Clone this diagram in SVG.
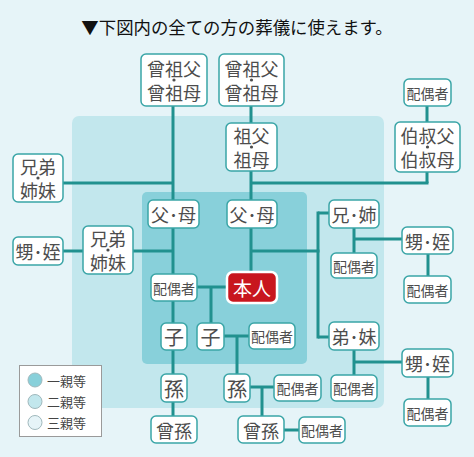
<svg xmlns="http://www.w3.org/2000/svg" width="474" height="457" viewBox="0 0 474 457">
<style>
.bg{fill:#e6f4f8}
.z2{fill:#c2e7ed}
.z1{fill:#88d0da}
.n rect{fill:#fff;stroke:#3aa5a7;stroke-width:1.5}
.n text{font-family:"Noto Sans CJK JP","Noto Sans",sans-serif;fill:#4d4d4d;text-anchor:middle;dominant-baseline:central}
.n circle{fill:#4d4d4d}
.f18{font-size:18px}
.f20{font-size:20px}
.f14{font-size:14px}
#connectors line{stroke:#21918f;stroke-width:3}
.title{font-family:"Noto Sans CJK JP","Noto Sans",sans-serif;font-size:17.4px;fill:#111;text-anchor:middle}
.leg{font-family:"Noto Sans CJK JP","Noto Sans",sans-serif;font-size:13px;fill:#444;dominant-baseline:central}
</style>
<rect class="bg" x="0" y="0" width="474" height="457"/>
<rect class="z2" x="72" y="116" width="312" height="292" rx="7"/>
<rect class="z1" x="142" y="192" width="165" height="172" rx="5"/>
<text class="title" x="237" y="34">▼下図内の全ての方の葬儀に使えます。</text>
<g id="connectors">
<line x1="173" y1="106" x2="173" y2="416"/>
<line x1="251" y1="106" x2="251" y2="272"/>
<line x1="63" y1="183" x2="173" y2="183"/>
<line x1="251" y1="183" x2="428.5" y2="183"/>
<line x1="427" y1="106" x2="427" y2="183"/>
<line x1="63" y1="251" x2="173" y2="251"/>
<line x1="251" y1="251" x2="319.5" y2="251"/>
<line x1="318" y1="211.5" x2="318" y2="338.5"/>
<line x1="318" y1="213" x2="329" y2="213"/>
<line x1="318" y1="337" x2="329" y2="337"/>
<line x1="354" y1="228" x2="354" y2="253"/>
<line x1="354" y1="239" x2="402" y2="239"/>
<line x1="428" y1="254" x2="428" y2="276"/>
<line x1="354" y1="350" x2="354" y2="375"/>
<line x1="354" y1="362" x2="402" y2="362"/>
<line x1="428" y1="377" x2="428" y2="399"/>
<line x1="197" y1="287" x2="227" y2="287"/>
<line x1="211" y1="287" x2="211" y2="323"/>
<line x1="224" y1="336" x2="249" y2="336"/>
<line x1="237" y1="336" x2="237" y2="374"/>
<line x1="250" y1="387" x2="274" y2="387"/>
<line x1="262" y1="387" x2="262" y2="416"/>
<line x1="284" y1="430" x2="299" y2="430"/>
</g>
<g id="n-sosofubo1" class="n"><rect x="141" y="54" width="66" height="52" rx="5"/><text class="f18" x="174" y="68">曾祖父</text><circle cx="174" cy="80" r="1.6"/><text class="f18" x="174" y="92">曾祖母</text></g>
<g id="n-sosofubo2" class="n"><rect x="219" y="54" width="65" height="52" rx="5"/><text class="f18" x="251.5" y="68">曾祖父</text><circle cx="251.5" cy="80" r="1.6"/><text class="f18" x="251.5" y="92">曾祖母</text></g>
<g id="n-haigu-oji" class="n"><rect x="404" y="79" width="47" height="27" rx="5"/><text class="f14" x="427.5" y="92.5">配偶者</text></g>
<g id="n-sofubo" class="n"><rect x="226" y="123" width="51" height="48" rx="5"/><text class="f18" x="251.5" y="135">祖父</text><circle cx="251.5" cy="147" r="1.6"/><text class="f18" x="251.5" y="159">祖母</text></g>
<g id="n-oji" class="n"><rect x="395" y="122" width="65" height="50" rx="5"/><text class="f18" x="427.5" y="135">伯叔父</text><circle cx="427.5" cy="147" r="1.6"/><text class="f18" x="427.5" y="159">伯叔母</text></g>
<g id="n-kyodai2" class="n"><rect x="13" y="154" width="50" height="48" rx="5"/><text class="f18" x="38" y="166">兄弟</text><circle cx="38" cy="178" r="1.6"/><text class="f18" x="38" y="190">姉妹</text></g>
<g id="n-fubo1" class="n"><rect x="148" y="200" width="51" height="28" rx="5"/><text class="f18" x="173.5" y="214">父･母</text></g>
<g id="n-fubo2" class="n"><rect x="227" y="200" width="50" height="28" rx="5"/><text class="f18" x="252" y="214">父･母</text></g>
<g id="n-kyodai1" class="n"><rect x="83" y="226" width="50" height="48" rx="5"/><text class="f18" x="108" y="238">兄弟</text><circle cx="108" cy="250" r="1.6"/><text class="f18" x="108" y="262">姉妹</text></g>
<g id="n-oimei-l" class="n"><rect x="13" y="237" width="50" height="28" rx="5"/><text class="f18" x="38" y="251">甥･姪</text></g>
<g id="n-ane" class="n"><rect x="329" y="200" width="50" height="28" rx="5"/><text class="f18" x="354" y="214">兄･姉</text></g>
<g id="n-haigu-ane" class="n"><rect x="331" y="253" width="46" height="25" rx="5"/><text class="f14" x="354" y="265.5">配偶者</text></g>
<g id="n-oimei-r1" class="n"><rect x="402" y="227" width="51" height="27" rx="5"/><text class="f18" x="427.5" y="240.5">甥･姪</text></g>
<g id="n-haigu-oimei1" class="n"><rect x="404" y="276" width="47" height="27" rx="5"/><text class="f14" x="427.5" y="289.5">配偶者</text></g>
<g id="n-haigu" class="n"><rect x="151" y="274" width="46" height="27" rx="5"/><text class="f14" x="174" y="287.5">配偶者</text></g>
<g id="n-honnin"><rect x="227" y="272" width="50" height="31" rx="6" fill="#c8161e" stroke="#fff" stroke-width="2.5"/><text x="252" y="287.5" font-family="Noto Sans CJK JP, Noto Sans, sans-serif" font-size="19" fill="#fff" text-anchor="middle" dominant-baseline="central">本人</text></g>
<g id="n-ko1" class="n"><rect x="161" y="323" width="26" height="27" rx="5"/><text class="f20" x="174" y="336.5">子</text></g>
<g id="n-ko2" class="n"><rect x="197" y="323" width="27" height="27" rx="5"/><text class="f20" x="210.5" y="336.5">子</text></g>
<g id="n-haigu-ko" class="n"><rect x="249" y="323" width="46" height="26" rx="5"/><text class="f14" x="272" y="336">配偶者</text></g>
<g id="n-imoto" class="n"><rect x="329" y="322" width="50" height="28" rx="5"/><text class="f18" x="354" y="336">弟･妹</text></g>
<g id="n-haigu-imoto" class="n"><rect x="331" y="375" width="46" height="26" rx="5"/><text class="f14" x="354" y="388">配偶者</text></g>
<g id="n-oimei-r2" class="n"><rect x="402" y="349" width="51" height="28" rx="5"/><text class="f18" x="427.5" y="363">甥･姪</text></g>
<g id="n-haigu-oimei2" class="n"><rect x="404" y="399" width="47" height="27" rx="5"/><text class="f14" x="427.5" y="412.5">配偶者</text></g>
<g id="n-mago1" class="n"><rect x="161" y="374" width="26" height="28" rx="5"/><text class="f20" x="174" y="388">孫</text></g>
<g id="n-mago2" class="n"><rect x="224" y="374" width="26" height="28" rx="5"/><text class="f20" x="237" y="388">孫</text></g>
<g id="n-haigu-mago" class="n"><rect x="274" y="375" width="47" height="26" rx="5"/><text class="f14" x="297.5" y="388">配偶者</text></g>
<g id="n-himago1" class="n"><rect x="151" y="416" width="46" height="27" rx="5"/><text class="f18" x="174" y="429.5">曾孫</text></g>
<g id="n-himago2" class="n"><rect x="238" y="416" width="46" height="27" rx="5"/><text class="f18" x="261" y="429.5">曾孫</text></g>
<g id="n-haigu-himago" class="n"><rect x="299" y="417" width="46" height="26" rx="5"/><text class="f14" x="322" y="430">配偶者</text></g>
<g id="legend">
<rect x="19.5" y="365.5" width="82" height="71" fill="#fff" stroke="#9a9a9a" stroke-width="1"/>
<circle cx="35" cy="380" r="7" fill="#88d0da" stroke="#a0b8bc" stroke-width="1"/>
<circle cx="35" cy="401.5" r="7" fill="#c2e7ed" stroke="#a0b8bc" stroke-width="1"/>
<circle cx="35" cy="422.5" r="7" fill="#e6f4f8" stroke="#a0b8bc" stroke-width="1"/>
<text class="leg" x="47" y="380">一親等</text>
<text class="leg" x="47" y="401.5">二親等</text>
<text class="leg" x="47" y="422.5">三親等</text>
</g>
</svg>
